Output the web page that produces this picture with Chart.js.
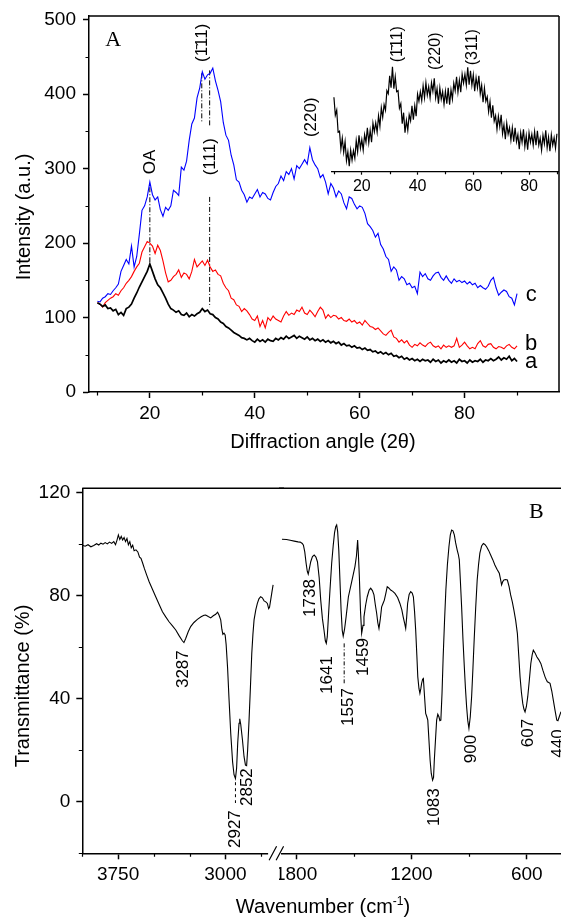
<!DOCTYPE html>
<html lang="en">
<head>
<meta charset="UTF-8" />
<title>XRD patterns and FTIR spectrum</title>
<script src="https://cdn.jsdelivr.net/npm/chart.js"></script>
<style>
  body { margin: 0; background: #fff; }
  #wrap { position: relative; width: 561px; height: 917px; overflow: hidden; background: #fff; }
  canvas { position: absolute; }
  #xrdMain { left: 0; top: 0; }
  #xrdInset { left: 320px; top: 20px; }
  #irLeft { left: 0; top: 470px; }
  #irRight { left: 279px; top: 470px; }
  .axis-title {
    position: absolute;
    font-family: "Liberation Sans", Arial, sans-serif;
    font-size: 20px;
    white-space: nowrap;
    line-height: 1;
    color: #000;
  }
  .axis-title.vertical { transform: translate(-50%, -50%) rotate(-90deg); }
  .axis-title.horizontal { transform: translate(-50%, -50%); }
  .axis-title sup { font-size: 12px; line-height: 0; }
</style>
</head>
<body>
<div id="wrap">
  <canvas id="xrdMain" width="561" height="460"></canvas>
  <canvas id="xrdInset" width="241" height="200"></canvas>
  <canvas id="irLeft" width="284" height="447"></canvas>
  <canvas id="irRight" width="282" height="447"></canvas>

  <div class="axis-title vertical" style="left:23px; top:217px;">Intensity (a.u.)</div>
  <div class="axis-title horizontal" style="left:323px; top:441px;">Diffraction angle (2&theta;)</div>
  <div class="axis-title vertical" style="left:22px; top:686px;">Transmittance (%)</div>
  <div class="axis-title horizontal" style="left:323px; top:906px;">Wavenumber (cm<sup>-1</sup>)</div>
</div>

<script>
  const FONT = '"Liberation Sans", Arial, sans-serif';
  const SERIF = '"Liberation Serif", "Times New Roman", serif';

  // ---- Panel A: XRD, sampled every 0.5 deg from 10 to 90 (2 theta) ----
  const angleStart = 10;
  const angleStep = 0.5;

  // curve a (black)
  const xrdA = [
    120, 118, 115, 117, 112, 113, 109, 111, 104, 107,
    103, 112, 114, 118, 126, 133, 141, 148, 155, 162,
    172, 162, 152, 144, 140, 133, 126, 118, 112, 110,
    107, 109, 104, 103, 106, 101, 104, 102, 105, 107,
    112, 108, 110, 105, 104, 100, 98, 94, 92, 88,
    86, 83, 80, 78, 76, 73, 72, 70, 72, 69,
    67, 71, 68, 70, 67, 71, 69, 68, 72, 70,
    73, 71, 75, 72, 74, 76, 72, 75, 73, 71,
    74, 70, 72, 69, 71, 68, 70, 67, 69, 66,
    68, 65, 67, 63, 65, 62, 63, 60, 62, 59,
    60, 57, 59, 56, 57, 54, 55, 52, 54, 51,
    53, 50, 52, 48, 49, 46, 48, 44, 46, 43,
    45, 42, 44, 41, 44, 42, 43, 40, 44, 41,
    43, 39, 42, 40, 43, 40, 42, 39, 44, 41,
    42, 39, 43, 40, 42, 41, 44, 40, 43, 42,
    45, 42, 44, 47, 43, 46, 44, 48, 42, 45,
    41
  ];

  // curve b (red)
  const xrdB = [
    120, 118, 114, 120, 123, 126, 128, 132, 130, 136,
    140, 146, 150, 155, 162, 168, 173, 188, 195, 202,
    200, 196, 186, 197, 190, 176, 160, 148, 150, 155,
    158, 164, 154, 160, 158, 152, 162, 178, 168, 172,
    176, 170, 177, 168, 162, 164, 158, 156, 146, 140,
    136, 126, 124, 117, 115, 108, 112, 109, 104, 98,
    96, 102, 88, 96, 86, 100, 96, 102, 98, 96,
    94, 102, 108, 103, 106, 104, 110, 108, 114, 106,
    104, 110, 106, 101, 108, 114, 110, 99, 104, 100,
    103, 102, 98, 100, 96, 95, 98, 94, 96, 92,
    94, 90, 96, 92, 88, 87, 84, 86, 82, 78,
    76, 80, 83, 74, 72, 67, 70, 66, 69, 63,
    60, 64, 62, 66, 63, 61, 65, 67, 62, 60,
    62, 58, 63, 60, 62, 60, 62, 72, 60, 63,
    67, 62, 58, 60, 58, 65, 69, 62, 60, 64,
    65, 60, 58, 61, 60, 58, 62, 64, 60, 58,
    62
  ];

  // curve c (blue)
  const xrdC = [
    122, 121, 126, 128, 132, 131, 136, 140, 145, 162,
    170, 178, 172, 196, 168, 182, 212, 244, 250, 262,
    282, 265, 258, 262, 245, 236, 248, 244, 250, 271,
    268, 264, 302, 298, 310, 338, 360, 368, 395, 408,
    430, 420, 426, 428, 435, 418, 405, 390, 362, 345,
    338, 318, 305, 285, 282, 271, 265, 255, 262, 260,
    266, 272, 262, 268, 266, 260, 258, 268, 276, 280,
    290, 284, 296, 292, 300, 286, 304, 300, 306, 312,
    306, 328, 312, 305, 300, 288, 292, 282, 266, 280,
    274, 262, 270, 266, 254, 246, 262, 260, 252, 246,
    250, 248, 240, 226, 222, 217, 208, 213, 198, 192,
    182, 178, 162, 168, 164, 150, 155, 152, 144, 146,
    140, 142, 132, 161, 155, 159, 152, 150, 156, 160,
    161, 154, 150, 156, 150, 146, 152, 148, 150, 147,
    149, 145, 148, 144, 146, 140, 143, 140, 138, 142,
    150, 154, 140, 130, 134, 137, 135, 128, 126, 117,
    132
  ];

  // inset pattern (arbitrary units), same angle grid
  const xrdInset = [
    149, 113, 123, 79, 81, 45, 67, 39, 60, 22,
    40, 11, 43, 23, 42, 27, 62, 40, 73, 47,
    64, 43, 74, 59, 88, 58, 83, 59, 97, 80,
    98, 79, 112, 91, 128, 109, 134, 123, 162, 156,
    192, 168, 210, 166, 190, 160, 162, 127, 136, 96,
    118, 78, 103, 83, 114, 102, 132, 104, 132, 111,
    155, 141, 160, 142, 172, 148, 178, 153, 170, 148,
    178, 161, 187, 148, 166, 136, 168, 145, 160, 135,
    161, 136, 168, 134, 164, 145, 177, 162, 190, 159,
    183, 159, 195, 177, 195, 173, 209, 174, 202, 173,
    194, 161, 188, 168, 192, 156, 173, 139, 167, 141,
    150, 120, 140, 108, 133, 101, 112, 85, 111, 90,
    114, 76, 94, 65, 97, 75, 88, 63, 88, 60,
    88, 60, 74, 45, 78, 59, 85, 50, 72, 44,
    78, 59, 75, 53, 80, 53, 82, 53, 67, 43,
    73, 56, 83, 48, 69, 41, 74, 53, 68, 47,
    76
  ];

  const xrdTicks = [20, 40, 60, 80];
  const xrdMinorTicks = [10, 30, 50, 70, 90];
  const intensityTicks = [0, 100, 200, 300, 400, 500];
  const intensityMinorTicks = [50, 150, 250, 350, 450];

  // dash-dot guides: [angle, from, to]
  const xrdGuides = [[20, 275, 172], [29.9, 428, 362], [31.4, 432, 356], [31.4, 262, 114]];

  const xrdLabels = [
    { text: 'A', x: 13, y: 472, font: '22px ' + SERIF },
    { text: 'OA', x: 20, y: 309, rotate: true },
    { text: '(1\u030411)', x: 30.0, y: 469, rotate: true },
    { text: '(111)', x: 31.5, y: 316, rotate: true },
    { text: '(220)', x: 50.75, y: 369, rotate: true },
    { text: 'c', x: 92.7, y: 130, font: '22px ' + FONT },
    { text: 'b', x: 92.7, y: 64, font: '22px ' + FONT },
    { text: 'a', x: 92.7, y: 41, font: '22px ' + FONT }
  ];
  const insetLabels = [
    { text: '(1\u030411)', x: 33.0, y: 255, rotate: true, font: '16px ' + FONT },
    { text: '(220)', x: 46.5, y: 241, rotate: true, font: '16px ' + FONT },
    { text: '(311)', x: 59.9, y: 249, rotate: true, font: '16px ' + FONT }
  ];

  // ---- Panel B: FTIR, broken wavenumber axis ----
  const waveHigh = [
    4000, 3980, 3960, 3940, 3920, 3900, 3885, 3870, 3855, 3840,
    3825, 3810, 3795, 3780, 3768, 3758, 3748, 3738, 3728, 3718,
    3708, 3698, 3688, 3678, 3668, 3658, 3648, 3638, 3625, 3612,
    3600, 3590, 3578, 3566, 3550, 3533, 3510, 3487, 3463, 3440,
    3417, 3394, 3370, 3347, 3324, 3301, 3290, 3277, 3260, 3243,
    3220, 3196, 3170, 3150, 3138, 3120, 3103, 3085, 3068, 3055,
    3045, 3033, 3025, 3018, 3010, 3002, 2995, 2985, 2975, 2963,
    2950, 2940, 2930, 2922, 2914, 2905, 2900, 2893, 2881, 2870,
    2860, 2852, 2845, 2835, 2825, 2816, 2808, 2800, 2788, 2777,
    2766, 2754, 2742, 2730, 2718, 2707, 2698, 2692, 2684, 2675,
    2667
  ];
  const transHigh = [
    99.6, 99.2, 99.8, 99.0, 99.5, 100.2, 99.7, 100.4, 100.0, 100.6,
    100.1, 100.8, 100.3, 101.0, 99.8, 101.5, 103.6, 101.8, 103.0, 101.6,
    102.6, 101.0, 102.2, 99.8, 101.0, 98.6, 99.6, 97.5, 97.8, 97.0,
    95.0, 94.5, 92.6, 90.5, 88.0, 85.4, 82.5, 79.6, 76.6, 73.8,
    71.8, 69.9, 68.3, 66.7, 64.5, 62.5, 61.8, 63.5, 66.0, 68.0,
    69.6, 70.8, 71.8, 72.4, 72.5, 71.9, 71.4, 72.2, 72.8, 73.6,
    72.5, 70.6, 67.0, 65.0, 65.5, 64.8, 61.0, 52.0, 40.0, 26.6,
    15.5, 10.5, 9.0, 13.0, 23.0, 30.5, 32.2, 30.0, 24.0, 17.5,
    14.2, 14.0, 20.0, 31.7, 45.0, 57.6, 65.0, 70.6, 74.5, 77.0,
    78.8, 79.6, 79.2, 78.0, 77.6, 77.0, 75.0, 75.5, 78.3, 81.5,
    84.2
  ];
  const waveLow = [
    1874, 1850, 1831, 1810, 1790, 1779, 1768, 1762, 1755, 1748,
    1742, 1737, 1731, 1724, 1715, 1706, 1697, 1689, 1680, 1672,
    1663, 1655, 1648, 1643, 1638, 1632, 1624, 1615, 1607, 1600,
    1594, 1589, 1584, 1578, 1572, 1566, 1560, 1555, 1548, 1540,
    1528, 1511, 1494, 1486, 1480, 1476, 1471, 1465, 1459, 1452,
    1447, 1438, 1430, 1420, 1412, 1403, 1395, 1388, 1381, 1375,
    1369, 1362, 1355, 1348, 1341, 1333, 1326, 1318, 1308, 1297,
    1286, 1272, 1260, 1250, 1243, 1236, 1230, 1225, 1220, 1212,
    1204, 1196, 1190, 1184, 1178, 1172, 1167, 1161, 1156, 1151,
    1147, 1142, 1138, 1132, 1126, 1120, 1115, 1109, 1103, 1097,
    1090, 1085, 1081, 1075, 1069, 1063, 1057, 1052, 1047, 1041,
    1035, 1028, 1021, 1013, 1005, 998, 991, 984, 977, 970,
    962, 956, 951, 945, 939, 932, 925, 919, 913, 907,
    901, 894, 887, 880, 873, 866, 858, 851, 844, 835,
    826, 818, 809, 798, 788, 777, 766, 755, 743, 737,
    731, 725, 719, 710, 701, 692, 684, 675, 667, 658,
    649, 642, 635, 628, 621, 615, 609, 602, 595, 587,
    579, 572, 566, 557, 548, 538, 527, 516, 505, 499,
    493, 486, 479, 470, 462, 453, 444, 438, 431, 422
  ];
  const transLow = [
    101.9, 101.8, 101.5, 101.2, 100.9, 100.8, 100.3, 99.6, 97.0, 92.6,
    89.5, 88.4, 90.5, 93.2, 95.2, 95.8, 95.0, 93.2, 87.0, 78.3,
    71.0, 66.7, 62.5, 61.5, 64.0, 71.8, 82.0, 92.6, 99.5, 104.5,
    106.8, 107.5, 105.0, 97.7, 86.0, 74.4, 66.5, 64.3, 67.0, 71.8,
    79.6, 85.4, 91.3, 95.5, 101.6, 96.0, 87.4, 74.0, 65.4, 68.5,
    71.8, 76.5, 79.6, 82.2, 82.9, 82.0, 80.3, 76.5, 73.2, 69.5,
    67.3, 71.0, 75.7, 77.0, 78.3, 81.0, 83.5, 83.0, 82.2, 81.7,
    80.9, 79.3, 77.0, 74.5, 71.8, 69.5, 67.3, 71.5, 77.0, 80.5,
    81.6, 81.0, 79.6, 74.0, 66.7, 57.0, 48.5, 44.0, 42.1, 44.0,
    46.0, 47.6, 47.9, 41.0, 34.3, 33.0, 31.7, 24.0, 16.2, 11.0,
    8.4, 9.5, 16.2, 24.0, 31.7, 34.0, 33.0, 31.5, 31.7, 42.0,
    56.3, 70.0, 82.2, 92.0, 99.0, 103.5, 105.5, 105.2, 103.6, 100.5,
    97.7, 96.0, 93.9, 85.0, 75.7, 63.0, 52.4, 44.0, 36.9, 31.5,
    28.5, 33.0, 40.8, 52.0, 64.1, 75.0, 86.1, 92.0, 96.5, 99.3,
    100.3, 99.9, 99.0, 97.5, 95.8, 94.0, 91.9, 90.3, 88.7, 86.5,
    84.2, 85.5, 86.1, 86.3, 86.1, 83.5, 80.3, 77.5, 74.4, 70.5,
    65.4, 57.0, 48.5, 42.5, 38.2, 36.0, 34.9, 37.0, 40.8, 47.0,
    53.7, 57.0, 58.9, 57.8, 56.3, 55.2, 53.7, 51.0, 48.5, 47.5,
    46.6, 46.3, 46.0, 43.0, 39.5, 35.5, 31.7, 31.5, 33.0, 35.0
  ];

  const transTicks = [0, 40, 80, 120];
  const transMinorTicks = [-20, 20, 60, 100];
  const waveHighTicks = [3750, 3000];
  const waveHighMinorTicks = [4000, 3500, 3250, 2750];
  const waveLowTicks = [1800, 1200, 600];
  const waveLowMinorTicks = [1500, 900];

  // guides: [wavenumber, from, to]
  const irGuidesHigh = [[2930, 7.6, -0.5]];
  const irGuidesLow = [[1550, 61.5, 46]];

  const irLabelsHigh = [
    { text: '3287', x: 3292, y: 51.5, rotate: true },
    { text: '2927', x: 2930, y: -10.6, rotate: true },
    { text: '2852', x: 2844, y: 5.7, rotate: true }
  ];
  const irLabelsLow = [
    { text: '1738', x: 1727, y: 79.1, rotate: true },
    { text: '1641', x: 1640, y: 49.2, rotate: true },
    { text: '1557', x: 1528, y: 36.8, rotate: true },
    { text: '1459', x: 1450, y: 56.2, rotate: true },
    { text: '1083', x: 1083, y: -2.1, rotate: true },
    { text: '900', x: 887, y: 20.5, rotate: true },
    { text: '607', x: 593, y: 26.7, rotate: true },
    { text: '440', x: 435, y: 22.6, rotate: true },
    { text: 'B', x: 550, y: 112.6, font: '22px ' + SERIF }
  ];

  // ---------- helpers ----------
  const anglePoints = arr => arr.map((v, i) => ({ x: angleStart + i * angleStep, y: v }));
  const pairPoints = (xs, ys) => xs.map((x, i) => ({ x: x, y: ys[i] }));

  function guideSets(guides, dash) {
    return guides.map(g => ({
      data: [{ x: g[0], y: g[1] }, { x: g[0], y: g[2] }],
      borderColor: '#000', borderWidth: 1, borderDash: dash
    }));
  }

  function framePlugin(opts) {
    return {
      id: 'frameLines',
      afterDraw(chart) {
        const { ctx, chartArea: a, width } = chart;
        ctx.save();
        ctx.strokeStyle = '#000';
        ctx.lineWidth = 1.5;
        ctx.beginPath();
        if (opts.top) {
          ctx.moveTo(opts.topFromEdge ? 0 : a.left, a.top);
          ctx.lineTo(opts.topToEdge ? width : a.right, a.top);
        }
        if (opts.right) {
          ctx.moveTo(a.right, a.top);
          ctx.lineTo(a.right, a.bottom);
        }
        ctx.stroke();
        ctx.restore();
      }
    };
  }

  function minorTickPlugin(xVals, yVals, len) {
    return {
      id: 'minorTicks',
      afterDraw(chart) {
        const { ctx } = chart;
        ctx.save();
        ctx.strokeStyle = '#000';
        ctx.lineWidth = 1.2;
        ctx.beginPath();
        const xs = chart.scales.x, ys = chart.scales.y;
        xVals.forEach(v => {
          const p = Math.round(xs.getPixelForValue(v)) + 0.5;
          ctx.moveTo(p, xs.top);
          ctx.lineTo(p, xs.top + len);
        });
        if (ys.options.display) {
          yVals.forEach(v => {
            const p = Math.round(ys.getPixelForValue(v)) + 0.5;
            ctx.moveTo(ys.right, p);
            ctx.lineTo(ys.right - len, p);
          });
        }
        ctx.stroke();
        ctx.restore();
      }
    };
  }

  function textPlugin(items) {
    return {
      id: 'peakText',
      afterDraw(chart) {
        const { ctx } = chart;
        items.forEach(it => {
          const x = chart.scales.x.getPixelForValue(it.x);
          const y = chart.scales.y.getPixelForValue(it.y);
          ctx.save();
          ctx.translate(x, y);
          if (it.rotate) ctx.rotate(-Math.PI / 2);
          ctx.font = it.font || ('17px ' + FONT);
          ctx.fillStyle = '#000';
          ctx.textAlign = 'center';
          ctx.textBaseline = 'middle';
          ctx.fillText(it.text, 0, 0);
          ctx.restore();
        });
      }
    };
  }

  // axis-break marks at the right end of the high-wavenumber part
  const breakPlugin = {
    id: 'axisBreak',
    afterDraw(chart) {
      const { ctx, chartArea: a } = chart;
      ctx.save();
      ctx.fillStyle = '#fff';
      ctx.fillRect(a.right - 6, a.bottom - 2, 14, 4);
      ctx.strokeStyle = '#000';
      ctx.lineWidth = 1.2;
      ctx.beginPath();
      ctx.moveTo(a.right - 5, a.bottom + 7);
      ctx.lineTo(a.right + 2.5, a.bottom - 7);
      ctx.moveTo(a.right + 2, a.bottom + 7);
      ctx.lineTo(a.right + 9.5, a.bottom - 7);
      ctx.stroke();
      ctx.restore();
    }
  };

  // keep the chart area where it is: no extra room for edge tick labels
  function fixHeight(h) {
    return s => { s.height = h; s.paddingLeft = 0; s.paddingRight = 0; };
  }

  function axisX(min, max, ticks, opts) {
    return Object.assign({
      type: 'linear', min: min, max: max,
      afterBuildTicks: s => { s.ticks = ticks.map(v => ({ value: v })); },
      ticks: { color: '#000', font: { family: FONT, size: 19 }, padding: 4, maxRotation: 0, autoSkip: false, callback: v => String(v) },
      grid: { drawOnChartArea: false, tickLength: 6, tickColor: '#000', tickWidth: 1.5 },
      border: { color: '#000', width: 1.5 }
    }, opts);
  }

  function axisY(min, max, ticks, width, pad) {
    return {
      type: 'linear', min: min, max: max,
      afterFit: s => { s.width = width; s.paddingTop = 0; s.paddingBottom = 0; },
      afterBuildTicks: s => { s.ticks = ticks.map(v => ({ value: v })); },
      ticks: { color: '#000', font: { family: FONT, size: 19 }, padding: pad, callback: v => String(v) },
      grid: { drawOnChartArea: false, tickLength: 6, tickColor: '#000', tickWidth: 1.5 },
      border: { color: '#000', width: 1.5 }
    };
  }

  const baseOptions = {
    responsive: false,
    animation: false,
    events: [],
    plugins: { legend: { display: false }, tooltip: { enabled: false } },
    elements: { point: { radius: 0 }, line: { tension: 0, fill: false } }
  };

  // ---------- Panel A main ----------
  new Chart(document.getElementById('xrdMain'), {
    type: 'line',
    data: {
      datasets: [
        { data: anglePoints(xrdA), borderColor: '#000', borderWidth: 1.7 },
        { data: anglePoints(xrdB), borderColor: '#ff0000', borderWidth: 1.1 },
        { data: anglePoints(xrdC), borderColor: '#0000ff', borderWidth: 1.1 }
      ].concat(guideSets(xrdGuides, [5, 2, 1, 2]))
    },
    options: Object.assign({}, baseOptions, {
      layout: { padding: { left: 0, top: 16, right: 2, bottom: 0 } },
      scales: {
        x: axisX(8.4, 98, xrdTicks, { afterFit: fixHeight(68) }),
        y: axisY(0, 505, intensityTicks, 89, 7)
      }
    }),
    plugins: [framePlugin({ top: true, right: true }), minorTickPlugin(xrdMinorTicks, intensityMinorTicks, 3.5), textPlugin(xrdLabels)]
  });

  // ---------- Panel A inset ----------
  new Chart(document.getElementById('xrdInset'), {
    type: 'line',
    data: { datasets: [{ data: anglePoints(xrdInset), borderColor: '#000', borderWidth: 1.2 }] },
    options: Object.assign({}, baseOptions, {
      layout: { padding: { left: 11.7, top: 41.7, right: 2.7, bottom: 0 } },
      scales: {
        x: axisX(9.2, 90.5, xrdTicks, {
          afterFit: fixHeight(48.3),
          ticks: { color: '#000', font: { family: FONT, size: 16 }, padding: 2, maxRotation: 0, autoSkip: false, callback: v => String(v) },
          grid: { drawOnChartArea: false, tickLength: 3, tickColor: '#000', tickWidth: 1.2 },
          border: { color: '#000', width: 1.2 }
        }),
        y: { display: false, min: 0, max: 220 }
      }
    }),
    plugins: [minorTickPlugin(xrdMinorTicks, [], 2.5), textPlugin(insetLabels)]
  });

  // ---------- Panel B, high wavenumbers ----------
  new Chart(document.getElementById('irLeft'), {
    type: 'line',
    data: {
      datasets: [{ data: pairPoints(waveHigh, transHigh), borderColor: '#000', borderWidth: 1.1 }]
        .concat(guideSets(irGuidesHigh, [3, 3]))
    },
    options: Object.assign({}, baseOptions, {
      layout: { padding: { left: 0, top: 18.3, right: 9.9, bottom: 0 } },
      scales: {
        x: axisX(2660, 4000, waveHighTicks, { reverse: true, afterFit: fixHeight(63.7) }),
        y: axisY(-20, 121.7, transTicks, 82.3, 6)
      }
    }),
    plugins: [framePlugin({ top: true, topToEdge: true }), minorTickPlugin(waveHighMinorTicks, transMinorTicks, 3.5), textPlugin(irLabelsHigh), breakPlugin]
  });

  // ---------- Panel B, low wavenumbers ----------
  new Chart(document.getElementById('irRight'), {
    type: 'line',
    data: {
      datasets: [{ data: pairPoints(waveLow, transLow), borderColor: '#000', borderWidth: 1.1 }]
        .concat(guideSets(irGuidesLow, [4, 2, 1, 2]))
    },
    options: Object.assign({}, baseOptions, {
      layout: { padding: { left: 2.7, top: 18.3, right: 0, bottom: 0 } },
      scales: {
        x: axisX(422, 1875, waveLowTicks, { reverse: true, afterFit: fixHeight(63.7) }),
        y: { display: false, min: -20, max: 121.7 }
      }
    }),
    plugins: [framePlugin({ top: true, topFromEdge: true }), minorTickPlugin(waveLowMinorTicks, [], 3.5), textPlugin(irLabelsLow)]
  });
</script>
</body>
</html>
